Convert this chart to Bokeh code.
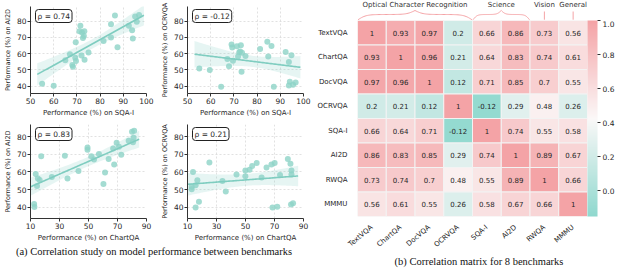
import numpy as np
from bokeh.plotting import figure
from bokeh.layouts import row, column
from bokeh.models import (Label, ColumnDataSource, LinearColorMapper, ColorBar,
                          FixedTicker, PrintfTickFormatter, Div, Range1d)
from bokeh.embed import file_html
from bokeh.resources import INLINE
from bokeh.core.properties import value

# ---------------- data ----------------
# (1) SQA-I vs AI2D
sqa_ai2d_x = [55, 60, 65, 67, 68, 68.3, 69.5, 69.3, 69.6, 71.5, 71.1, 72.2, 73.2, 73, 72.6,
              72, 73.3, 75, 81.5, 84.7, 84.7, 86.4, 87.5, 92.4, 93.8, 94.1, 95.1, 95.8, 96.8]
sqa_ai2d_y = [41.5, 40.3, 56, 59.7, 53, 52, 67, 57.5, 55.5, 77.2, 73.8, 73, 73.8, 70.8, 69.7,
              58.8, 56.2, 60.7, 67.8, 78.1, 70, 83.4, 64, 77.2, 74.4, 69.3, 82.8, 79.6, 83.8]
# (2) SQA-I vs OCRVQA
sqa_ocr_x = [55.1, 59.6, 64.5, 67.2, 67.9, 69, 69.3, 69.6, 71.3, 71.8, 72.3, 72.7, 73, 73.3,
             73.5, 75, 81.3, 84.4, 84.8, 86.2, 87.2, 92.3, 93.7, 94.1, 93.7, 94.8, 95.5, 96.6]
sqa_ocr_y = [50.8, 50, 39.6, 56.7, 52.3, 65.7, 63.8, 55.6, 64.6, 58.2, 60.8, 61.4, 65.1, 48.9,
             60.5, 58.6, 62.9, 67.3, 58.2, 64.7, 39.6, 61, 54.9, 42.8, 40.4, 59, 40.9, 42.2]
# (3) ChartQA vs AI2D
chart_ai2d_x = [12.5, 12.7, 13.6, 14.5, 15.1, 16.3, 17.4, 24.7, 33.7, 35.5, 43.1, 49.3, 49.3,
                52, 53.8, 57.2, 60.3, 61.4, 63.9, 67, 67.7, 69.4, 71, 72.6, 77.7, 80, 81.5,
                81.1, 80.7]
chart_ai2d_y = [41.7, 40, 58.8, 52, 56.3, 55.4, 69, 57.1, 69.2, 56.3, 60.5, 73.9, 72.7, 69,
                67.1, 70.2, 53.2, 59.7, 67.3, 73.4, 64.2, 76.6, 74.4, 69.8, 77.8, 82.9, 83.4,
                79.5, 76.9]
# (4) ChartQA vs OCRVQA
chart_ocr_x = [12.9, 12.9, 13.8, 15.6, 16.8, 15.6, 17.9, 25.1, 34.1, 36.4, 43.8, 49.9, 49.9,
               52.8, 54.6, 57.7, 61.1, 64.5, 67.9, 68.6, 70.1, 71.9, 73.8, 79.2, 81, 81.7,
               81.7, 81.4, 82.8]
chart_ocr_y = [50.2, 51.5, 60, 52.4, 55.3, 39.7, 43, 65.4, 54.9, 48.8, 58.6, 60.8, 57.5, 61.3,
               63.4, 65.1, 56.9, 62.5, 64.2, 39.7, 65.1, 40.2, 58.3, 67.3, 64.7, 60.8, 58.6,
               41.4, 42.2]
rho_values = ["0.74", "-0.12", "0.83", "0.21"]

benchmarks = ["TextVQA", "ChartQA", "DocVQA", "OCRVQA", "SQA-I", "AI2D", "RWQA", "MMMU"]
corr = [
    [1, 0.93, 0.97, 0.2, 0.66, 0.86, 0.73, 0.56],
    [0.93, 1, 0.96, 0.21, 0.64, 0.83, 0.74, 0.61],
    [0.97, 0.96, 1, 0.12, 0.71, 0.85, 0.7, 0.55],
    [0.2, 0.21, 0.12, 1, -0.12, 0.29, 0.48, 0.26],
    [0.66, 0.64, 0.71, -0.12, 1, 0.74, 0.55, 0.58],
    [0.86, 0.83, 0.85, 0.29, 0.74, 1, 0.89, 0.67],
    [0.73, 0.74, 0.7, 0.48, 0.55, 0.89, 1, 0.66],
    [0.56, 0.61, 0.55, 0.26, 0.58, 0.67, 0.66, 1],
]
groups = [("Optical Character Recognition", 0, 4), ("Science", 4, 6),
          ("Vision", 6, 7), ("General", 7, 8)]
cbar_ticks = [0.0, 0.2, 0.4, 0.6, 0.8, 1.0]

caption_a = "(a) Correlation study on model performance between benchmarks"
caption_b = "(b) Correlation matrix for 8 benchmarks"

# ---------------- style ----------------
FONT = "DejaVu Sans"
TEAL = "#8dd3c7"
PINK = "#f4a3a6"
TXT = "#262626"


def style_axes(p):
    for ax in (p.xaxis, p.yaxis):
        ax.axis_line_color = "#333333"
        ax.major_tick_line_color = "#333333"
        ax.minor_tick_line_color = None
        ax.major_tick_in = 0
        ax.major_tick_out = 3
        ax.major_label_text_font = FONT
        ax.major_label_text_font_size = "7.5px"
        ax.major_label_text_color = TXT
        ax.major_label_standoff = 1
        ax.axis_label_text_font = FONT
        ax.axis_label_text_font_size = "7px"
        ax.axis_label_text_font_style = "normal"
        ax.axis_label_text_color = TXT
        ax.axis_label_standoff = 2
    p.yaxis.axis_label_text_font_size = "6.5px"
    p.grid.grid_line_color = "#d9d9d9"
    p.grid.grid_line_dash = "2 2"
    p.grid.grid_line_width = 0.8
    p.outline_line_color = None


def scatter_panel(x, y, rho, xlabel, ylabel, xr, yr, xticks, yticks, fh, top):
    p = figure(frame_width=116, frame_height=fh, x_range=Range1d(*xr), y_range=Range1d(*yr),
               output_backend="svg", toolbar_location=None,
               min_border_left=27, min_border_right=11, min_border_top=top,
               min_border_bottom=2, background_fill_color="white")
    x = np.array(x, dtype=float)
    y = np.array(y, dtype=float)
    b, a = np.polyfit(x, y, 1)
    r = x.max() - x.min()
    xs = np.linspace(x.min() - 0.05 * r, x.max() + 0.05 * r, 80)
    yhat = a + b * xs
    n = len(x)
    s = np.sqrt(np.sum((y - (a + b * x)) ** 2) / (n - 2))
    sxx = np.sum((x - x.mean()) ** 2)
    se = s * np.sqrt(1.0 / n + (xs - x.mean()) ** 2 / sxx)
    src = ColumnDataSource(dict(x=xs, y=yhat, lo=yhat - 2.04 * se, hi=yhat + 2.04 * se))
    p.scatter(x, y, size=6, fill_color=TEAL, fill_alpha=0.8, line_color=None)
    p.varea(x="x", y1="lo", y2="hi", source=src, fill_color=TEAL, fill_alpha=0.22)
    p.line("x", "y", source=src, line_color="#7fcdc0", line_width=1.6)
    p.xaxis.ticker = FixedTicker(ticks=xticks)
    p.yaxis.ticker = FixedTicker(ticks=yticks)
    p.xaxis.axis_label = xlabel
    p.yaxis.axis_label = ylabel
    style_axes(p)
    p.add_layout(Label(x=xr[0], y=yr[1], x_offset=5, y_offset=-3, text="ρ = " + rho,
                       text_baseline="top", text_font=FONT, text_font_size="7.5px",
                       text_color=TXT, border_line_color="#222222", border_line_width=1,
                       background_fill_color="white", border_radius=3, padding=2))
    return p


tl = scatter_panel(sqa_ai2d_x, sqa_ai2d_y, rho_values[0], "Performance (%) on SQA-I",
                   "Performance (%) on AI2D", (50, 100), (35.5, 89),
                   [50, 60, 70, 80, 90, 100], [40, 50, 60, 70, 80], 87, 6)
tr = scatter_panel(sqa_ocr_x, sqa_ocr_y, rho_values[1], "Performance (%) on SQA-I",
                   "Performance (%) on OCRVQA", (50, 100), (35.5, 89),
                   [50, 60, 70, 80, 90, 100], [40, 50, 60, 70, 80], 87, 6)
bl = scatter_panel(chart_ai2d_x, chart_ai2d_y, rho_values[2], "Performance (%) on ChartQA",
                   "Performance (%) on AI2D", (10, 90), (33.5, 87),
                   [10, 30, 50, 70, 90], [40, 50, 60, 70, 80], 94, 5)
br = scatter_panel(chart_ocr_x, chart_ocr_y, rho_values[3], "Performance (%) on ChartQA",
                   "Performance (%) on OCRVQA", (10, 90), (33.5, 87),
                   [10, 30, 50, 70, 90], [40, 50, 60, 70, 80], 94, 5)

# ---------------- heatmap ----------------
def hex2rgb(h):
    return [int(h[i:i + 2], 16) for i in (1, 3, 5)]


lo_c, mid_c, hi_c = hex2rgb("#8fd8ce"), hex2rgb("#fbf8f8"), hex2rgb(PINK)
palette = []
for i in range(256):
    t = i / 255
    if t < 0.5:
        c0, c1, s = lo_c, mid_c, t / 0.5
    else:
        c0, c1, s = mid_c, hi_c, (t - 0.5) / 0.5
    palette.append("#%02x%02x%02x" % tuple(int(round(c0[k] + (c1[k] - c0[k]) * s)) for k in range(3)))
mapper = LinearColorMapper(palette=palette, low=-0.15, high=1.0)

nb = len(benchmarks)
cx, cy, cv, ct = [], [], [], []
for r_i in range(nb):
    for c_i in range(nb):
        cx.append(c_i + 0.5)
        cy.append(nb - r_i - 0.5)
        cv.append(corr[r_i][c_i])
        v = corr[r_i][c_i]
        ct.append(str(v) if v != 1 else "1")
hsrc = ColumnDataSource(dict(x=cx, y=cy, v=cv, t=ct))

FW = 230
heat = figure(frame_width=FW, frame_height=196, x_range=Range1d(0, nb), y_range=Range1d(0, nb),
              output_backend="svg", toolbar_location=None, min_border_left=42,
              min_border_right=4, min_border_top=0, min_border_bottom=2)
heat.rect("x", "y", width=1, height=1, source=hsrc,
          fill_color={"field": "v", "transform": mapper}, line_color="#f3f3f3", line_width=1)
heat.text("x", "y", text="t", source=hsrc, text_align="center", text_baseline="middle",
          text_font=value(FONT), text_font_size="7px", text_color=TXT)
heat.xaxis.ticker = FixedTicker(ticks=[i + 0.5 for i in range(nb)])
heat.yaxis.ticker = FixedTicker(ticks=[i + 0.5 for i in range(nb)])
heat.xaxis.major_label_overrides = {i + 0.5: benchmarks[i] for i in range(nb)}
heat.yaxis.major_label_overrides = {nb - i - 0.5: benchmarks[i] for i in range(nb)}
heat.xaxis.major_label_orientation = 0.7
for ax in (heat.xaxis, heat.yaxis):
    ax.axis_line_color = None
    ax.major_tick_line_color = None
    ax.minor_tick_line_color = None
    ax.major_label_text_font = FONT
    ax.major_label_text_font_size = "7px"
    ax.major_label_text_color = TXT
    ax.major_label_standoff = 4
heat.grid.grid_line_color = None
heat.outline_line_color = None

cb = ColorBar(color_mapper=mapper, width=10, ticker=FixedTicker(ticks=cbar_ticks),
              formatter=PrintfTickFormatter(format="%.1f"),
              major_label_text_font=FONT, major_label_text_font_size="7.5px",
              major_label_text_color=TXT, major_tick_in=0, major_tick_out=3,
              major_tick_line_color="#333333", bar_line_color=None, padding=0, margin=14,
              label_standoff=2, background_fill_alpha=0)
heat.add_layout(cb, "right")

# braces / group annotations
brace = figure(frame_width=FW, frame_height=20, x_range=Range1d(0, nb), y_range=Range1d(0, 1),
               output_backend="svg", toolbar_location=None, min_border_left=42,
               min_border_right=4, min_border_top=0, min_border_bottom=0)
brace.axis.visible = False
brace.grid.grid_line_color = None
brace.outline_line_color = None


def brace_path(x0, x1, y_end, y_mid, y_peak, k=14.0, n=50):
    t = np.linspace(0, 1, n)
    s1 = 1 / (1 + np.exp(-k * t))
    s2 = 1 / (1 + np.exp(-k * (t - 1)))
    yh = y_end + (y_mid - y_end) * 2 * (s1 - 0.5) + (y_peak - y_mid) * 2 * s2
    c = (x0 + x1) / 2
    xl = x0 + (c - x0) * t
    xr_ = x1 - (x1 - c) * t
    return list(xl) + list(xr_[::-1]), list(yh) + list(yh[::-1])


for name, g0, g1 in groups:
    c = (g0 + g1) / 2
    if g1 - g0 > 1:
        bx, by = brace_path(g0 + 0.02, g1 - 0.02, 0.04, 0.3, 0.5)
        brace.line(bx, by, line_color=PINK, line_width=1)
    else:
        brace.segment(x0=[c], y0=[0.04], x1=[c], y1=[0.45], line_color=PINK, line_width=1)
    brace.text(x=[c], y=[0.78], text=[name], text_align="center", text_baseline="middle",
               text_font=value(FONT), text_font_size="7px", text_color="#333333")

# ---------------- captions ----------------
cap_style = {"text-align": "center", "font-family": "Liberation Serif", "font-size": "10.5px",
             "color": "#111111"}
cap_a = Div(text=caption_a, width=308, height=14, margin=(0, 0, 0, 0), styles=cap_style)
cap_b = Div(text=caption_b, width=298, height=14, margin=(0, 0, 0, 16), styles=cap_style)

left = column(row(tl, tr), row(bl, br), cap_a)
right = column(brace, heat, cap_b)
root = row(left, right)

open("out.html", "w").write(file_html(root, INLINE))
